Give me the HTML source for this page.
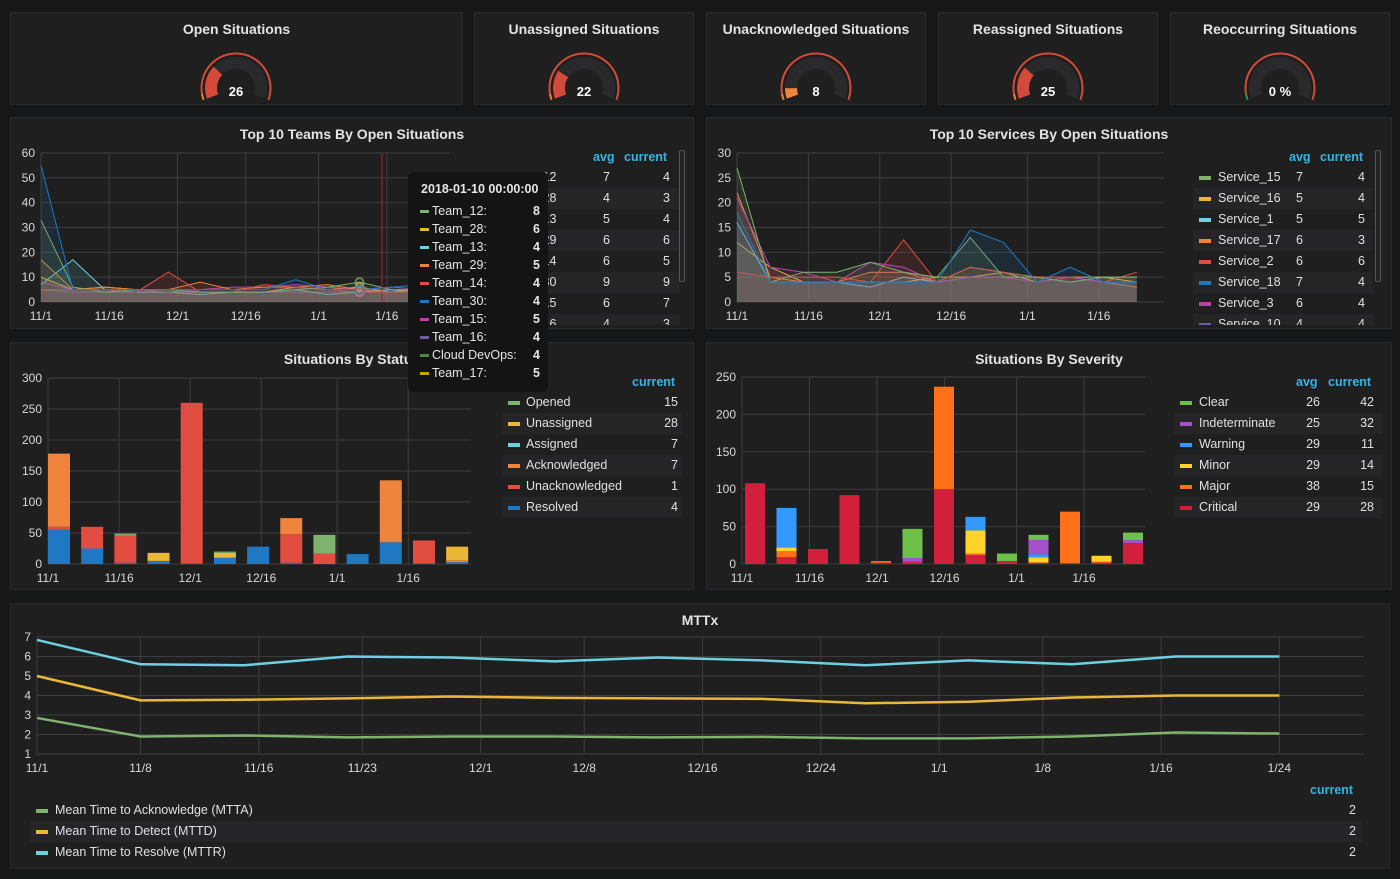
<!DOCTYPE html>
<html><head><meta charset="utf-8"><style>
*{margin:0;padding:0;box-sizing:border-box}
body{width:1400px;height:879px;background:#161719;font-family:"Liberation Sans",sans-serif;color:#d8d9da;position:relative;overflow:hidden}
.panel{position:absolute;background:#1f1f20;border:1px solid #2a2a2c}
.title{position:absolute;left:0;right:0;text-align:center;font-weight:bold;font-size:14px;color:#e3e3e3}
.lg{position:absolute;font-size:12.5px;color:#e0e0e0}
.row{position:absolute;height:21px;line-height:21px}
.hd{position:absolute;color:#33b5e5;font-weight:bold;font-size:12.5px}
.clip{position:absolute;overflow:hidden}
svg{position:absolute;left:0;top:0}
.tip{position:absolute;left:408px;top:172px;width:140px;height:220px;background:#141414;border-radius:5px;font-size:12.5px;color:#e6e6e6}
.tip .tr{position:absolute;left:12px;width:120px;height:18px;line-height:18px}
.tip .tr i{display:inline-block;width:9px;height:3px;vertical-align:middle;margin-right:3px}
.tip .tr b{position:absolute;right:0}
</style></head><body>
<div class="panel" style="left:10px;top:12px;width:453px;height:93px"><div class="title" style="top:8px">Open Situations</div></div>
<div class="panel" style="left:474px;top:12px;width:220px;height:93px"><div class="title" style="top:8px">Unassigned Situations</div></div>
<div class="panel" style="left:706px;top:12px;width:220px;height:93px"><div class="title" style="top:8px">Unacknowledged Situations</div></div>
<div class="panel" style="left:938px;top:12px;width:220px;height:93px"><div class="title" style="top:8px">Reassigned Situations</div></div>
<div class="panel" style="left:1170px;top:12px;width:220px;height:93px"><div class="title" style="top:8px">Reoccurring Situations</div></div>

<div class="panel" style="left:10px;top:117px;width:684px;height:212px"><div class="title" style="top:8px">Top 10 Teams By Open Situations</div></div>
<div class="panel" style="left:706px;top:117px;width:686px;height:212px"><div class="title" style="top:8px">Top 10 Services By Open Situations</div></div>
<div class="panel" style="left:10px;top:342px;width:684px;height:248px"><div class="title" style="top:8px">Situations By Status</div></div>
<div class="panel" style="left:706px;top:342px;width:686px;height:248px"><div class="title" style="top:8px">Situations By Severity</div></div>
<div class="panel" style="left:10px;top:603px;width:1380px;height:266px"><div class="title" style="top:8px">MTTx</div></div>

<div id="legends"></div>
<svg id="chart" width="1400" height="879"></svg>

<div class="tip">
<div style="position:absolute;left:13px;top:10px;font-weight:bold">2018-01-10 00:00:00</div>
<div id="tiprows"></div>
</div>

<script>
// ---------- data ----------
const weeks = ['11/1','11/8','11/15','11/22','11/29','12/6','12/13','12/20','12/27','1/3','1/10','1/17','1/24'];
const dateTicks = ['11/1','11/16','12/1','12/16','1/1','1/16'];
const mttxTicks = ['11/1','11/8','11/16','11/23','12/1','12/8','12/16','12/24','1/1','1/8','1/16','1/24'];

const gaugeValues = [26, 22, 8, 25, 0];
const gaugeLabels = ['26','22','8','25','0 %'];
const gaugeMax = [90, 90, 90, 90, 100];

const teamNames = ['Team_16','Team_13','Team_28','Team_15','Team_29','Team_14','Team_12','Team_30'];
const teamColors = ['#705da0','#6ed0e0','#eab839','#ba43a9','#ef843c','#e24d42','#7eb26d','#1f78c1'];
const team16 = [5,4,4,4,4,4,4,4,4,4,4,5,4];
const team13 = [7,17,5,4,4,3,4,4,5,3,4,5,4];
const team28 = [10,5,6,5,5,4,4,4,6,5,6,4,6];
const team15 = [8,5,5,5,4,5,6,6,7,6,5,6,5];
const team29 = [17,5,6,5,5,8,5,6,6,7,5,4,5];
const team14 = [5,5,5,4,12,4,4,7,6,5,4,4,4];
const team12 = [33,6,4,5,5,4,4,4,5,6,8,5,5];
const team30 = [55,5,5,5,5,5,5,5,9,5,5,6,7];
const teamTicks = [0,10,20,30,40,50,60];
const teamLegendNames = ['Team_12','Team_28','Team_13','Team_29','Team_14','Team_30','Team_15','Team_16'];
const teamAvg = [7,4,5,6,6,9,6,4];
const teamCur = [4,3,4,6,5,9,7,3];

const svcNames = ['Service_16','Service_1','Service_17','Service_2','Service_3','Service_15','Service_18'];
const svcColors = ['#eab839','#6ed0e0','#ef843c','#e24d42','#ba43a9','#7eb26d','#1f78c1'];
const svc16 = [12,7,4,4,4,4,5,5,6,4,5,5,4];
const svc1 = [16,4,4,4,3,5,4,5,5,5,4,5,5];
const svc17 = [22,5,4,4,6,6,4,7,6,5,5,4,3];
const svc2 = [6,5,5,5,4,12.5,4,7,6,5,5,4,6];
const svc3 = [21,7,6,4,8,7,4,5,5,4,5,4,4];
const svc15 = [27,4,6,6,8,6,5,13,5,5,4,5,5];
const svc18 = [18,4,4,4,4,4,4,14.5,12,4,7,4,4];
const svcTicks = [0,5,10,15,20,25,30];
const svcLegendNames = ['Service_15','Service_16','Service_1','Service_17','Service_2','Service_18','Service_3','Service_10'];
const svcLegendColors = ['#7eb26d','#eab839','#6ed0e0','#ef843c','#e24d42','#1f78c1','#ba43a9','#705da0'];
const svcAvg = [7,5,5,6,6,7,6,4];
const svcCur = [4,4,5,3,6,4,4,4];

const statusNames = ['Resolved','Unacknowledged','Acknowledged','Assigned','Unassigned','Opened'];
const statusColors = ['#1f78c1','#e24d42','#ef843c','#6ed0e0','#eab839','#7eb26d'];
const stResolved = [55,25,2,5,1,10,28,2,0,16,35,1,3];
const stUnack = [5,35,44,0,259,0,0,46,17,0,0,37,0];
const stAck = [118,0,0,0,0,0,0,26,0,0,100,0,3];
const stAssigned = [0,0,0,0,0,0,0,0,0,0,0,0,0];
const stUnassigned = [0,0,0,13,0,8,0,0,0,0,0,0,22];
const stOpened = [0,0,3,0,0,2,0,0,30,0,0,0,0];
const statusTicks = [0,50,100,150,200,250,300];
const statusLegend = ['Opened','Unassigned','Assigned','Acknowledged','Unacknowledged','Resolved'];
const statusLegendColors = ['#7eb26d','#eab839','#6ed0e0','#ef843c','#e24d42','#1f78c1'];
const statusCur = [15,28,7,7,1,4];

const sevNames = ['Critical','Major','Minor','Warning','Indeterminate','Clear'];
const sevColors = ['#d21f3c','#ff7118','#ffd42a','#3399ff','#a352cc','#6ec04a'];
const svCritical = [108,9,20,92,2,3,100,12,4,2,1,2,28];
const svMajor = [0,8,0,0,2,0,137,2,0,0,69,1,0];
const svMinor = [0,5,0,0,0,0,0,31,0,7,0,8,0];
const svWarning = [0,53,0,0,0,0,0,18,0,4,0,0,0];
const svIndet = [0,0,0,0,0,5,0,0,0,19,0,0,4];
const svClear = [0,0,0,0,0,39,0,0,10,7,0,0,10];
const sevTicks = [0,50,100,150,200,250];
const sevLegend = ['Clear','Indeterminate','Warning','Minor','Major','Critical'];
const sevLegendColors = ['#6ec04a','#a352cc','#3399ff','#ffd42a','#ff7118','#d21f3c'];
const sevAvg = [26,25,29,29,38,29];
const sevCur = [42,32,11,14,15,28];

const mtta = [2.85,1.9,1.95,1.85,1.9,1.9,1.85,1.88,1.8,1.8,1.9,2.1,2.05];
const mttd = [5.0,3.75,3.78,3.85,3.95,3.88,3.85,3.83,3.6,3.68,3.9,4.0,4.0];
const mttr = [6.85,5.6,5.55,6.0,5.95,5.75,5.95,5.8,5.55,5.8,5.6,6.0,6.0];
const mttxTicksY = [1,2,3,4,5,6,7];
const mttxLegend = ['Mean Time to Acknowledge (MTTA)','Mean Time to Detect (MTTD)','Mean Time to Resolve (MTTR)'];
const mttxColors = ['#7eb26d','#eab839','#6ed0e0'];
const mttxCur = [2,2,2];

const tipNames = ['Team_12:','Team_28:','Team_13:','Team_29:','Team_14:','Team_30:','Team_15:','Team_16:','Cloud DevOps:','Team_17:'];
const tipColors = ['#7eb26d','#eab839','#6ed0e0','#ef843c','#e24d42','#1f78c1','#ba43a9','#705da0','#508642','#cca300'];
const tipValues = [8,6,4,5,4,4,5,4,4,5];

// ---------- helpers ----------
const NS='http://www.w3.org/2000/svg';
const svg=document.getElementById('chart');
function dayOf(s){const p=s.split('/');const m=+p[0],d=+p[1];return m===11?d-1:(m===12?29+d:60+d);}
function mk(tag,a,parent){const e=document.createElementNS(NS,tag);for(const k in a)e.setAttribute(k,a[k]);(parent||svg).appendChild(e);return e;}
function txt(x,y,s,anchor,size,color,weight){const t=mk('text',{x:x,y:y,'text-anchor':anchor||'middle','font-size':size||12,fill:color||'#d8d9da','font-family':'Liberation Sans, sans-serif','font-weight':weight||'normal'});t.textContent=s;return t;}

function axes(c, yt, xt){
  yt.forEach(v=>{const y=c.ys(v);
    const l=mk('line',{x1:c.left,x2:c.right,y1:y,y2:y,stroke:'#3d3d3f','stroke-width':1});
    
    
    const t=txt(c.left-6,y+4,String(v),'end',12);
    
    
  });
  xt.forEach(s=>{const x=c.xs(dayOf(s));
    const l=mk('line',{x1:x,x2:x,y1:c.top,y2:c.bottom,stroke:'#3d3d3f','stroke-width':1});
    
    
    const t=txt(x,c.bottom+18,s,'middle',12);
    
    
  });
}
function lines(c, series, colors, fill, width){
  series.forEach((vals,i)=>{
    const pts=vals.map((v,j)=>c.xs(dayOf(weeks[j]))+','+c.ys(v));
    if(fill){
      const p=mk('polygon',{points:c.xs(0)+','+c.ys(0)+' '+pts.join(' ')+' '+c.xs(dayOf(weeks[vals.length-1]))+','+c.ys(0),fill:colors[i],'fill-opacity':0.13});
      
      
    }
    const l=mk('polyline',{points:pts.join(' '),fill:'none',stroke:colors[i],'stroke-width':width||1});
    
    
  });
}
function bars(c, stacks, colors, w){
  weeks.forEach((wk,j)=>{
    let acc=0;
    stacks.forEach((vals,i)=>{
      const v=vals[j]; if(!v) return;
      const y1=c.ys(acc+v), y0=c.ys(acc);
      const r=mk('rect',{x:c.xs(dayOf(wk))+c.off,y:y1,width:w,height:y0-y1,fill:colors[i]});
      
      
      acc+=v;
    });
  });
}
function arcPath(cx,cy,r1,r2,a0,a1){
  const rad=a=>a*Math.PI/180;const P=(r,a)=>[cx+r*Math.cos(rad(a)),cy-r*Math.sin(rad(a))];
  const large=Math.abs(a0-a1)>180?1:0;
  const p1=P(r2,a0),p2=P(r2,a1),p3=P(r1,a1),p4=P(r1,a0);
  return `M${p1} A${r2},${r2} 0 ${large} 1 ${p2} L${p3} A${r1},${r1} 0 ${large} 0 ${p4} Z`;
}

// ---------- gauges ----------
const gaugeCx=[236,584,816,1048,1280];
const gaugeFill=['#d44a3a','#d44a3a','#ef843c','#d44a3a','#299c46'];
gaugeValues.forEach((v,i)=>{
  const cx=gaugeCx[i],cy=88;
  const bg=mk('path',{d:arcPath(cx,cy,19,31,200,-20),fill:'#29292b'});
  
  
  const f=Math.min(v/gaugeMax[i],1);
  if(f>0){const p=mk('path',{d:arcPath(cx,cy,19,31,200,200-220*f),fill:gaugeFill[i]});
    
    }
  const th=mk('path',{d:arcPath(cx,cy,33.5,35.5,190,-20),fill:'#d44a3a'});
  
  
  const th2=mk('path',{d:arcPath(cx,cy,33.5,35.5,200,190),fill:i===4?'#299c46':'#ef843c'});
  
  
  const t=txt(cx,96,gaugeLabels[i],'middle',13,'#ffffff','bold');
  
  
});

// ---------- teams ----------
const cT={left:41,right:449,top:153,bottom:302,xs:d=>41+d*4.55,ys:v=>302-v*149/60};
axes(cT,teamTicks,dateTicks);
lines(cT,[team16,team13,team28,team15,team29,team14,team12,team30],teamColors,true,1);
const red=mk('line',{x1:382,x2:382,y1:153,y2:302,stroke:'#c4162a','stroke-width':1});


[team16,team13,team28,team15,team29,team14,team12,team30].forEach((vals,i)=>{
  const c=mk('circle',{cx:cT.xs(dayOf(weeks[10])),cy:cT.ys(vals[10]),r:4,fill:'none',stroke:teamColors[i],'stroke-width':2,'stroke-opacity':0.7});
  
  
});

// ---------- services ----------
const cS={left:737,right:1164,top:153,bottom:302,xs:d=>737+d*4.76,ys:v=>302-v*149/30};
axes(cS,svcTicks,dateTicks);
lines(cS,[svc16,svc1,svc17,svc2,svc3,svc15,svc18],svcColors,true,1);

// ---------- status ----------
const cSt={left:48,right:471,top:378,bottom:564,off:0,xs:d=>48+d*4.74,ys:v=>564-v*186/300};
axes(cSt,statusTicks,dateTicks);
bars(cSt,[stResolved,stUnack,stAck,stAssigned,stUnassigned,stOpened],statusColors,22);

// ---------- severity ----------
const cSv={left:742,right:1145,top:377,bottom:564,off:3,xs:d=>742+d*4.5,ys:v=>564-v*187/250};
axes(cSv,sevTicks,dateTicks);
bars(cSv,[svCritical,svMajor,svMinor,svWarning,svIndet,svClear],sevColors,20);

// ---------- mttx ----------
const cM={left:37,right:1364,top:637,bottom:754,xs:d=>37+d*14.79,ys:v=>754-(v-1)*19.5};
axes(cM,mttxTicksY,mttxTicks);
lines(cM,[mtta,mttd,mttr],mttxColors,false,2.5);

// ---------- legends ----------
const L=document.getElementById('legends');
function header(x,y,s){const d=document.createElement('div');d.className='hd';d.style.left=x+'px';d.style.top=y+'px';d.textContent=s;
  
  
  L.appendChild(d);}
function clipBox(x,y,w,h){const d=document.createElement('div');d.className='clip';
  d.style.cssText=`left:${x}px;top:${y}px;width:${w}px;height:${h}px`;
  
  
  L.appendChild(d);return d;}
function legend(x0,w,y0,names,colors,cols,opts,box){
  const parent=box||L; const ox=box?parseFloat(box.style.left):0, oy=box?parseFloat(box.style.top):0;
  names.forEach((n,i)=>{
    const r=document.createElement('div');r.className='row lg';
    r.style.left=(x0-ox)+'px';r.style.top=(y0+i*21-oy)+'px';r.style.width=w+'px';
    if(i%2===1)r.style.background='#252527';
    
    
    let h=`<span style="position:absolute;left:6px;top:9px;width:12px;height:4px;background:${colors[i]}"></span><span style="position:absolute;left:${opts.nameX}px">${n}</span>`;
    cols.forEach((c,k)=>{h+=`<span style="position:absolute;right:${opts.rights[k]}px">${c[i]}</span>`;});
    r.innerHTML=h;parent.appendChild(r);
  });
}
header(593,150,'avg');header(624,150,'current');
legend(495,185,167,teamLegendNames,teamColors.slice(0).reverse(),[teamAvg,teamCur],{nameX:10,rights:[70,10]},clipBox(480,160,200,165));
header(1289,150,'avg');header(1320,150,'current');
legend(1193,180,167,svcLegendNames,svcLegendColors,[svcAvg,svcCur],{nameX:25,rights:[70,8]},clipBox(1180,160,200,165));
header(632,375,'current');
legend(502,180,392,statusLegend,statusLegendColors,[statusCur],{nameX:24,rights:[4]});
header(1296,375,'avg');header(1328,375,'current');
legend(1174,208,392,sevLegend,sevLegendColors,[sevAvg,sevCur],{nameX:25,rights:[62,8]});
header(1310,783,'current');
legend(30,1332,800,mttxLegend,mttxColors,[mttxCur],{nameX:25,rights:[6]});
// scrollbars
[[679,150],[1375,150]].forEach(p=>{const d=document.createElement('div');
  
  
  d.style.cssText=`position:absolute;left:${p[0]}px;top:${p[1]}px;width:6px;height:132px;border:1px solid #555;border-radius:2px;background:#222`;L.appendChild(d);});

// tooltip rows
const TR=document.getElementById('tiprows');
tipNames.forEach((n,i)=>{const r=document.createElement('div');r.className='tr';r.style.top=(30+i*18)+'px';
  
  
  r.innerHTML=`<i style="background:${tipColors[i]}"></i>${n}<b>${tipValues[i]}</b>`;TR.appendChild(r);});
</script>
</body></html>
